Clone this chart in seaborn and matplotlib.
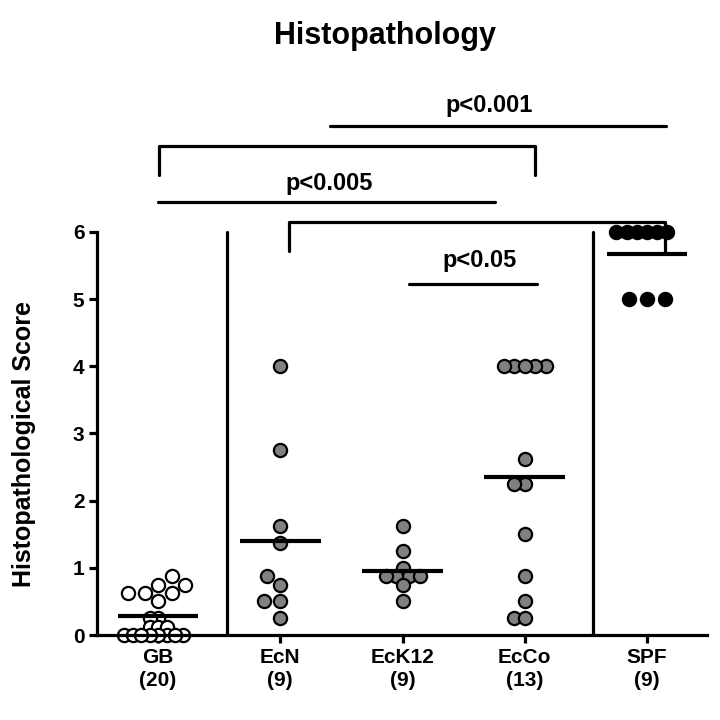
import warnings
import numpy as np
import pandas as pd
import matplotlib
matplotlib.use("Agg")
import matplotlib.pyplot as plt
import seaborn as sns

warnings.filterwarnings("ignore")

# scores, one list per group
groups = ["GB", "EcN", "EcK12", "EcCo", "SPF"]
gb_scores = [0.875, 0.75, 0.75, 0.625, 0.625, 0.625, 0.5, 0.25, 0.25,
             0.125, 0.125, 0.125, 0, 0, 0, 0, 0, 0, 0, 0]
ecn_scores = [4.0, 2.75, 1.625, 1.375, 0.875, 0.75, 0.5, 0.5, 0.25]
eck12_scores = [1.625, 1.25, 1.0, 0.875, 0.875, 0.875, 0.875, 0.75, 0.5]
ecco_scores = [4, 4, 4, 4, 4, 2.625, 2.25, 2.25, 1.5, 0.875, 0.5, 0.25, 0.25]
spf_scores = [6, 6, 6, 6, 6, 6, 5, 5, 5]
fill_colors = ["white", "#808080", "#808080", "#808080", "black"]
y_ticks = [0, 1, 2, 3, 4, 5, 6]

all_scores = [gb_scores, ecn_scores, eck12_scores, ecco_scores, spf_scores]
df = pd.DataFrame({
    "group": np.repeat(groups, [len(s) for s in all_scores]),
    "score": np.concatenate(all_scores),
})

sns.set_style("white")
plt.rcParams["font.family"] = ["Liberation Sans", "DejaVu Sans"]
plt.rcParams["font.weight"] = "bold"
for key in ("text.color", "axes.labelcolor", "xtick.color", "ytick.color"):
    plt.rcParams[key] = "black"

fig = plt.figure(figsize=(7.2, 7.2), dpi=100)
ax = fig.add_axes([0.1347, 0.118, 0.847, 0.56])

MARKER = 9.5
EDGE = 1.6
# the original packs equal scores tighter than a plain swarm would,
# so each swarm is laid out with a smaller marker and then enlarged
pieces = [
    ("GB", lambda s: s < 0.4, 4.2),
    ("GB", lambda s: s >= 0.4, MARKER),
    ("EcN", lambda s: s >= 0, MARKER),
    ("EcK12", lambda s: s >= 0, 5.8),
    ("EcCo", lambda s: s >= 0, 5.6),
    ("SPF", lambda s: s > 5.5, 5.4),
    ("SPF", lambda s: s <= 5.5, 11.0),
]
for grp, keep, layout_size in pieces:
    sub = df[(df["group"] == grp) & keep(df["score"])]
    sns.swarmplot(data=sub, x="group", y="score", order=groups,
                  color=fill_colors[groups.index(grp)], size=layout_size,
                  linewidth=EDGE, edgecolor="black", warn_thresh=1,
                  ax=ax, zorder=2)

# group means
means = df.groupby("group")["score"].mean().reindex(groups)
ax.hlines(means.values, np.arange(len(groups)) - 0.33,
          np.arange(len(groups)) + 0.33, color="black", lw=3, zorder=3)

# separators
for xs in (0.56, 3.56):
    ax.plot([xs, xs], [0, 6], color="black", lw=2.3, clip_on=False)

# significance brackets
kw = dict(color="black", lw=2.3, clip_on=False, solid_capstyle="round")
ax.plot([1.41, 4.16], [7.58, 7.58], **kw)
ax.plot([0.01, 0.01, 3.08, 3.08], [6.84, 7.27, 7.27, 6.84], **kw)
ax.plot([0.0, 2.76], [6.45, 6.45], **kw)
ax.plot([1.07, 1.07, 4.15, 4.15], [5.71, 6.14, 6.14, 5.71], **kw)
ax.plot([2.05, 3.10], [5.22, 5.22], **kw)
tkw = dict(ha="center", va="baseline", fontsize=17, fontweight="bold")
ax.text(2.71, 7.78, "p<0.001", **tkw)
ax.text(1.40, 6.62, "p<0.005", **tkw)
ax.text(2.63, 5.48, "p<0.05", **tkw)

ax.set_xlim(-0.5, 4.49)
ax.set_ylim(0, 6)
ax.set_yticks(y_ticks)
ax.set_xticks(range(len(groups)))
ax.set_xticklabels([f"{g}\n({len(s)})" for g, s in zip(groups, all_scores)],
                   fontsize=15, fontweight="bold", linespacing=1.3)
ax.set_yticklabels([str(t) for t in y_ticks], fontsize=15, fontweight="bold")
ax.tick_params(axis="both", direction="out", length=6, width=2.3,
               color="black", pad=3, bottom=True, left=True)
ax.set_xlabel("")
ax.set_ylabel("Histopathological Score", fontsize=18, fontweight="bold")
ax.yaxis.set_label_coords(-0.1, 0.474)
sns.despine(ax=ax)
for side in ("left", "bottom"):
    ax.spines[side].set_linewidth(2.3)
    ax.spines[side].set_color("black")

fig.text(0.535, 0.939, "Histopathology", ha="center", va="baseline",
         fontsize=22, fontweight="bold")

# run the swarm layout once, then freeze it and draw full-size markers
fig.canvas.draw()
for coll in ax.collections:
    if "draw" in coll.__dict__:
        del coll.draw
        coll.set_sizes([MARKER ** 2])
    coll.set_clip_on(False)

fig.savefig("out.png", dpi=100)
